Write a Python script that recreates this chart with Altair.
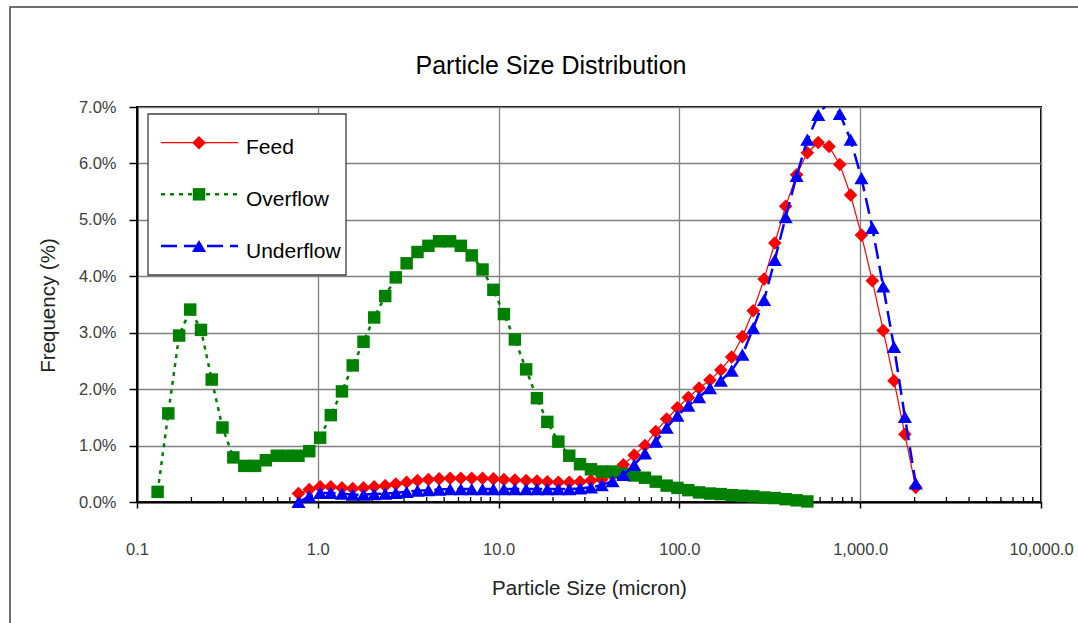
import altair as alt
import pandas as pd

# ---------------- data ----------------
particle_size = [0.130, 0.149, 0.171, 0.197, 0.226, 0.259, 0.297, 0.341, 0.392, 0.450,
                 0.516, 0.593, 0.681, 0.782, 0.897, 1.03, 1.18, 1.36, 1.56, 1.79,
                 2.05, 2.36, 2.70, 3.10, 3.56, 4.09, 4.69, 5.39, 6.18, 7.10,
                 8.15, 9.36, 10.7, 12.3, 14.2, 16.3, 18.6, 21.4, 24.6, 28.2,
                 32.4, 37.2, 42.7, 49.0, 56.2, 64.5, 74.0, 85.0, 97.5, 112.0,
                 128.5, 147.6, 169.4, 194.5, 223.0, 256.0, 294.0, 337.0, 387.0, 445.0,
                 510.0, 586.0, 673.0, 771.0, 885.0, 1016.0, 1167.0, 1340.0, 1538.0, 1766.0,
                 2028.0]

# Overflow starts at particle_size[0]
overflow_pct = [0.18, 1.57, 2.95, 3.41, 3.05, 2.17, 1.32, 0.79, 0.64, 0.64,
                0.74, 0.82, 0.82, 0.82, 0.90, 1.14, 1.54, 1.96, 2.42, 2.84,
                3.27, 3.65, 3.98, 4.23, 4.43, 4.54, 4.62, 4.62, 4.54, 4.37,
                4.12, 3.76, 3.33, 2.88, 2.35, 1.84, 1.42, 1.07, 0.82, 0.67,
                0.58, 0.54, 0.54, 0.50, 0.47, 0.43, 0.36, 0.29, 0.25, 0.21,
                0.17, 0.15, 0.14, 0.12, 0.11, 0.10, 0.08, 0.07, 0.05, 0.03,
                0.01]
OVERFLOW_START = 0

# Feed and Underflow start at particle_size[13]
feed_pct = [0.15, 0.22, 0.27, 0.27, 0.25, 0.24, 0.25, 0.27, 0.29, 0.32,
            0.35, 0.38, 0.40, 0.41, 0.42, 0.42, 0.42, 0.42, 0.41, 0.40,
            0.39, 0.38, 0.37, 0.36, 0.35, 0.35, 0.36, 0.38, 0.40, 0.47,
            0.66, 0.83, 1.00, 1.25, 1.47, 1.67, 1.85, 2.02, 2.16, 2.34,
            2.57, 2.93, 3.39, 3.95, 4.59, 5.24, 5.80, 6.19, 6.37, 6.30,
            5.98, 5.44, 4.73, 3.92, 3.04, 2.15, 1.20, 0.26]
FEED_START = 13

underflow_pct = [0.00, 0.10, 0.16, 0.16, 0.15, 0.13, 0.13, 0.14, 0.15, 0.16,
                 0.18, 0.20, 0.21, 0.22, 0.23, 0.23, 0.23, 0.23, 0.23, 0.23,
                 0.23, 0.23, 0.23, 0.23, 0.23, 0.23, 0.24, 0.26, 0.30, 0.37,
                 0.48, 0.66, 0.86, 1.07, 1.32, 1.53, 1.71, 1.86, 2.02, 2.15,
                 2.33, 2.61, 3.08, 3.58, 4.29, 5.05, 5.78, 6.42, 6.86, 7.10,
                 6.88, 6.42, 5.74, 4.86, 3.82, 2.75, 1.51, 0.33]
UNDERFLOW_START = 13

series_names = ["Feed", "Overflow", "Underflow"]
x_tick_values = [0.1, 1, 10, 100, 1000, 10000]
y_tick_values = [0.0, 0.01, 0.02, 0.03, 0.04, 0.05, 0.06, 0.07]
minor_tick_values = [m * d for d in [0.1, 1, 10, 100, 1000] for m in range(2, 10)]

# ---------------- styling ----------------
W, H = 904, 395
FONT = "Liberation Sans"
RED, GREEN, BLUE = "#FF0000", "#008000", "#0000FF"
DIAMOND_SIZE, SQUARE_SIZE, TRIANGLE_SIZE = 185, 155, 200


def frame(values, start):
    return pd.DataFrame({
        "size": particle_size[start:start + len(values)],
        "freq": [v / 100.0 for v in values],
    })


feed_df = frame(feed_pct, FEED_START)
over_df = frame(overflow_pct, OVERFLOW_START)
under_df = frame(underflow_pct, UNDERFLOW_START)
minor_df = pd.DataFrame({"size": minor_tick_values})
one = pd.DataFrame({"k": [0]})

x_axis = alt.Axis(
    values=x_tick_values, format=",.1f", labelFlush=False, labelOverlap=False,
    grid=True, gridColor="#808080", gridWidth=1.3,
    domainColor="#000000", domainWidth=2,
    ticks=True, tickColor="#000000", tickSize=6, tickWidth=1.5,
    labelFont=FONT, labelFontSize=16.5, labelColor="#404040", labelPadding=33,
    title="Particle Size (micron)", titleFont=FONT, titleFontSize=20.5,
    titleFontWeight="normal", titleColor="#222222",
    titleX=W / 2, titleY=92, titleBaseline="alphabetic", titleAlign="center",
)
y_axis = alt.Axis(
    values=y_tick_values, format=".1%",
    grid=True, gridColor="#808080", gridWidth=1.3,
    domainColor="#000000", domainWidth=2,
    ticks=True, tickColor="#000000", tickSize=8, tickWidth=1.5,
    labelFont=FONT, labelFontSize=16.5, labelColor="#404040", labelPadding=13,
    title="Frequency (%)", titleFont=FONT, titleFontSize=20.5,
    titleFontWeight="normal", titleColor="#222222",
    titleX=-89, titleY=198, titleAngle=270, titleBaseline="middle", titleAlign="center",
)

x_enc = alt.X("size:Q", scale=alt.Scale(type="log", domain=[0.1, 10000], nice=False), axis=x_axis)
y_enc = alt.Y("freq:Q", scale=alt.Scale(domain=[0, 0.07], nice=False, zero=False), axis=y_axis)


def series_layers(df, color, width, dash, shape, size):
    line_kw = dict(color=color, strokeWidth=width, clip=True)
    if dash:
        line_kw["strokeDash"] = dash
    line = alt.Chart(df).mark_line(**line_kw).encode(x=x_enc, y=y_enc)
    pts = (alt.Chart(df).mark_point(shape=shape, filled=True, size=size, color=color, opacity=1)
           .encode(x=x_enc, y=y_enc)
           .transform_filter("datum.freq <= 0.0701"))
    return [line, pts]


layers = []

# outer chart frame
layers.append(alt.Chart(one).mark_rect(fillOpacity=0, stroke="#404040", strokeWidth=1.5).encode(
    x=alt.value(-127), x2=alt.value(960), y=alt.value(-100), y2=alt.value(540)))

# minor ticks (inside) on the x axis
layers.append(alt.Chart(minor_df).mark_rule(color="#000000", strokeWidth=1.3).encode(
    x=x_enc, y=alt.value(H), y2=alt.value(H - 5)))

layers += series_layers(feed_df, RED, 1.2, None, "diamond", DIAMOND_SIZE)
layers += series_layers(over_df, GREEN, 2.5, [4, 5], "square", SQUARE_SIZE)
layers += series_layers(under_df, BLUE, 2.5, [16, 7], "triangle-up", TRIANGLE_SIZE)

# chart title
layers.append(alt.Chart(one).mark_text(
    text="Particle Size Distribution", font=FONT, fontSize=25, color="#000000",
    align="center", baseline="alphabetic").encode(x=alt.value(414), y=alt.value(-33)))

# legend box
layers.append(alt.Chart(one).mark_rect(fill="#FFFFFF", stroke="#404040", strokeWidth=1.3).encode(
    x=alt.value(11), x2=alt.value(209), y=alt.value(7), y2=alt.value(168)))

legend_specs = [
    (series_names[0], RED, 1.2, None, "diamond", DIAMOND_SIZE, 35.7),
    (series_names[1], GREEN, 2.5, [4, 5], "square", SQUARE_SIZE, 87.3),
    (series_names[2], BLUE, 2.5, [16, 7], "triangle-up", TRIANGLE_SIZE, 139.0),
]
for name, color, width, dash, shape, size, ly in legend_specs:
    rule_kw = dict(color=color, strokeWidth=width)
    if dash:
        rule_kw["strokeDash"] = dash
    layers.append(alt.Chart(one).mark_rule(**rule_kw).encode(
        x=alt.value(24), x2=alt.value(101), y=alt.value(ly)))
    layers.append(alt.Chart(one).mark_point(shape=shape, filled=True, size=size, color=color, opacity=1).encode(
        x=alt.value(62), y=alt.value(ly)))
    layers.append(alt.Chart(one).mark_text(
        text=name, font=FONT, fontSize=21, color="#000000", align="left", baseline="alphabetic").encode(
        x=alt.value(109), y=alt.value(ly + 11.5)))

chart = (
    alt.layer(*layers)
    .properties(width=W, height=H,
                padding={"left": 137, "top": 107, "right": 37, "bottom": 121},
                autosize=alt.AutoSizeParams(type="none"))
    .configure(background="#FFFFFF")
    .configure_view(stroke="#000000", strokeWidth=2)
)

chart.save("out.html", embed_options={"renderer": "svg", "actions": False})
